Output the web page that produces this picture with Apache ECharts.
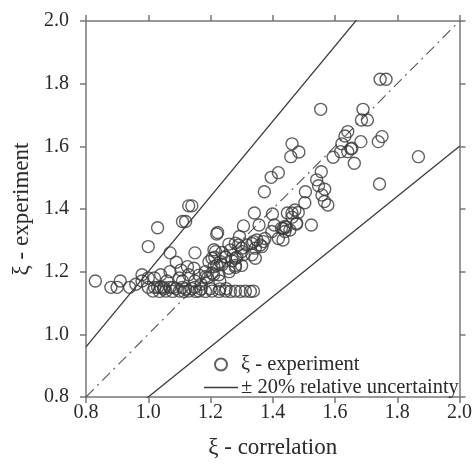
<!DOCTYPE html>
<html>
<head>
<meta charset="utf-8">
<script src="https://cdn.jsdelivr.net/npm/echarts@6/dist/echarts.min.js"></script>
<style>
  html, body { margin: 0; padding: 0; background: #fff; }
  #chart { width: 475px; height: 468px; }
</style>
</head>
<body>
<div id="chart"></div>
<script>
// Measured drag coefficient ratio: correlation (x) vs experiment (y)
const xiCorrelation = [
  0.83, 0.88, 0.90, 0.91, 0.94, 0.96, 0.98, 0.98, 1.00, 1.00, 1.02, 1.02, 1.04, 1.04, 1.06, 1.07,
  1.00, 1.03, 1.07, 1.09, 1.11, 1.12, 1.13, 1.14, 1.15, 1.22,
  1.07, 1.10, 1.11, 1.13, 1.15, 1.17, 1.19, 1.21, 1.23, 1.26, 1.28, 1.30, 1.22, 1.15, 1.11, 1.08, 1.05, 1.03,
  1.105, 1.126, 1.147, 1.163, 1.184, 1.205, 1.216, 1.232, 1.248, 1.264, 1.280, 1.290, 1.301, 1.317, 1.333, 1.349, 1.365, 1.375, 1.397, 1.418, 1.434, 1.455,
  1.195, 1.211, 1.237, 1.259, 1.280, 1.227, 1.205, 1.184,
  1.211, 1.237, 1.214, 1.248, 1.269, 1.285, 1.306, 1.333, 1.344,
  1.259, 1.280, 1.301, 1.338, 1.344, 1.360, 1.370,
  1.223, 1.293, 1.306, 1.341, 1.399, 1.356, 1.405, 1.428, 1.443, 1.439, 1.433, 1.477, 1.524,
  1.471, 1.447, 1.462, 1.482, 1.503, 1.462, 1.476, 1.439,
  1.395, 1.418, 1.373, 1.505, 1.541, 1.547, 1.567, 1.558, 1.556, 1.566, 1.577,
  1.462, 1.484, 1.458, 1.554, 1.594, 1.622, 1.632, 1.641, 1.651, 1.641, 1.618, 1.654, 1.662, 1.683, 1.685, 1.704, 1.690, 1.739, 1.751, 1.743, 1.745, 1.764, 1.868,
  1.015, 1.036, 1.057, 1.078, 1.100, 1.115, 1.131, 1.153, 1.163, 1.184, 1.205, 1.227, 1.248, 1.264, 1.280, 1.296, 1.312, 1.328, 1.338,
  1.05, 1.09, 1.12, 1.14, 1.17, 1.20, 1.23, 1.25
];
const xiExperiment = [
  1.17, 1.15, 1.15, 1.17, 1.15, 1.16, 1.17, 1.19, 1.15, 1.18, 1.18, 1.15, 1.19, 1.15, 1.17, 1.15,
  1.28, 1.34, 1.26, 1.23, 1.36, 1.36, 1.41, 1.41, 1.26, 1.32,
  1.20, 1.18, 1.17, 1.19, 1.17, 1.16, 1.18, 1.19, 1.17, 1.20, 1.22, 1.22, 1.22, 1.15, 1.15, 1.15, 1.15, 1.15,
  1.205, 1.216, 1.211, 1.189, 1.200, 1.243, 1.264, 1.232, 1.248, 1.269, 1.243, 1.285, 1.264, 1.285, 1.290, 1.301, 1.280, 1.306, 1.328, 1.306, 1.338, 1.333,
  1.232, 1.216, 1.222, 1.211, 1.214, 1.190, 1.195, 1.184,
  1.270, 1.261, 1.246, 1.246, 1.235, 1.246, 1.254, 1.254, 1.243,
  1.288, 1.291, 1.275, 1.296, 1.275, 1.285, 1.296,
  1.325, 1.312, 1.346, 1.387, 1.384, 1.349, 1.349, 1.339, 1.342, 1.328, 1.301, 1.355, 1.349,
  1.397, 1.387, 1.387, 1.389, 1.420, 1.374, 1.352, 1.344,
  1.501, 1.516, 1.455, 1.455, 1.493, 1.474, 1.463, 1.445, 1.519, 1.424, 1.413,
  1.608, 1.582, 1.567, 1.718, 1.565, 1.608, 1.633, 1.647, 1.592, 1.583, 1.583, 1.594, 1.546, 1.615, 1.684, 1.684, 1.718, 1.615, 1.631, 1.480, 1.814, 1.814, 1.567,
  1.138, 1.137, 1.138, 1.137, 1.138, 1.137, 1.138, 1.137, 1.138, 1.137, 1.138, 1.137, 1.138, 1.137, 1.138, 1.137, 1.138, 1.137, 1.138,
  1.145, 1.146, 1.145, 1.146, 1.145, 1.146, 1.145, 1.146
];

// Axis extents and tick spacing
const axisMin = 0.8;
const axisMax = 2.0;
const tickStep = 0.2;

// Parity line and ±20 % relative-uncertainty band factors
const parityFactor = 1.0;
const bandFactors = [1.2, 0.8];
const lineX = [axisMin, axisMax];

const scatterData = xiCorrelation.map((x, i) => [x, xiExperiment[i]]);
const bandLine = f => lineX.map(x => [x, +(x * f).toFixed(4)]);

const serif = '"Liberation Serif", "DejaVu Serif", serif';
const axisColor = '#777';
const inkColor = '#2a2a2a';

const chart = echarts.init(document.getElementById('chart'), null, { renderer: 'canvas' });

const baseAxis = {
  type: 'value',
  min: axisMin,
  max: axisMax,
  interval: tickStep,
  splitLine: { show: false },
  axisLine: { show: true, lineStyle: { color: axisColor, width: 1.5 } },
  axisTick: { show: true, inside: false, length: 6, lineStyle: { color: axisColor, width: 1.5 } }
};

chart.setOption({
  animation: false,
  backgroundColor: '#fff',
  grid: { left: 86, right: 12, top: 21, bottom: 71, containLabel: false },
  xAxis: [
    Object.assign({}, baseAxis, {
      position: 'bottom',
      name: 'ξ - correlation',
      nameLocation: 'middle',
      nameGap: 39,
      nameTextStyle: { fontFamily: serif, fontSize: 23, color: inkColor },
      axisLabel: { margin: 6, fontFamily: serif, fontSize: 20, color: inkColor,
        formatter: v => v.toFixed(1) }
    }),
    Object.assign({}, baseAxis, {
      position: 'top',
      axisLabel: { show: false }
    })
  ],
  yAxis: [
    Object.assign({}, baseAxis, {
      position: 'left',
      name: 'ξ - experiment',
      nameLocation: 'middle',
      nameGap: 53,
      nameRotate: 90,
      nameTextStyle: { fontFamily: serif, fontSize: 23, color: inkColor },
      axisLabel: { margin: 17, fontFamily: serif, fontSize: 20, color: inkColor,
        formatter: v => v.toFixed(1) }
    }),
    Object.assign({}, baseAxis, {
      position: 'right',
      axisLabel: { show: false }
    })
  ],
  legend: {
    orient: 'vertical',
    left: 199,
    top: 349,
    itemWidth: 34,
    itemHeight: 12,
    itemGap: 2,
    data: [
      { name: 'ξ - experiment' },
      { name: '± 20% relative uncertainty', icon: 'path://M0,0H100V4H0Z' }
    ],
    textStyle: { fontFamily: serif, fontSize: 20.5, color: inkColor, padding: [0, 0, 0, -2] }
  },
  series: [
    {
      name: 'parity',
      type: 'line',
      data: bandLine(parityFactor),
      symbol: 'none',
      lineStyle: { color: '#555', width: 1.1, type: [11, 5, 2, 5] },
      z: 2
    },
    {
      name: '± 20% relative uncertainty',
      type: 'line',
      data: bandLine(bandFactors[0]),
      symbol: 'none',
      lineStyle: { color: '#3a3a3a', width: 1.3 },
      itemStyle: { color: '#3a3a3a' },
      z: 2
    },
    {
      name: '± 20% relative uncertainty',
      type: 'line',
      data: bandLine(bandFactors[1]),
      symbol: 'none',
      lineStyle: { color: '#3a3a3a', width: 1.3 },
      itemStyle: { color: '#3a3a3a' },
      z: 2
    },
    {
      name: 'ξ - experiment',
      type: 'scatter',
      data: scatterData,
      symbol: 'circle',
      symbolSize: 12,
      itemStyle: { color: 'rgba(255,255,255,0)', borderColor: '#3a3a3a', borderWidth: 1.4 },
      z: 3
    }
  ]
});
</script>
</body>
</html>
